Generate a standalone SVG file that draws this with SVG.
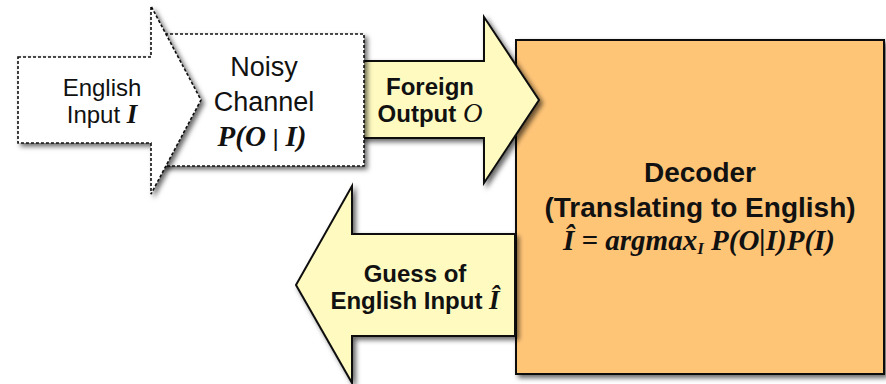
<svg xmlns="http://www.w3.org/2000/svg" width="886" height="384" viewBox="0 0 886 384">
  <defs>
    <filter id="shadow" x="-10%" y="-10%" width="130%" height="130%">
      <feDropShadow dx="3" dy="3" stdDeviation="2.5" flood-color="#000" flood-opacity="0.6"/>
    </filter>
  </defs>
  <style>
    .dashed { fill: #ffffff; stroke: #111; stroke-width: 1.6; stroke-dasharray: 3 2; filter: url(#shadow); }
    .solid-y { fill: #fffac0; stroke: #111; stroke-width: 2; stroke-linejoin: miter; filter: url(#shadow); }
    .solid-o { fill: #ffc577; stroke: #111; stroke-width: 2; filter: url(#shadow); }
    .sans { font-family: "Liberation Sans", Arial, sans-serif; fill: #111; text-anchor: middle; }
    .bold { font-weight: bold; }
    .math { font-family: "Liberation Serif", "Times New Roman", serif; font-style: italic; font-weight: bold; }
    .mathi { font-family: "Liberation Serif", "Times New Roman", serif; font-style: italic; font-weight: normal; }
  </style>
  <rect width="886" height="384" fill="#ffffff"/>

  <!-- Decoder box -->
  <g id="decoder">
    <rect class="solid-o" x="516" y="40" width="368" height="334"/>
    <text class="sans bold" x="700" y="182" font-size="28">Decoder</text>
    <text class="sans bold" x="700" y="217" font-size="28">(Translating to English)</text>
    <text class="sans" x="699" y="250" font-size="29"><tspan class="math">Î = argmax</tspan><tspan class="math" font-size="17" dy="4">I</tspan><tspan class="math" dy="-4"> P(O|I)P(I)</tspan></text>
  </g>

  <!-- Arrow-shaped connectors -->
  <g id="connectors">
    <g id="foreign-output">
      <path class="solid-y" d="M360,61 H484 V17 L539,100 L484,183 V138 H360 Z"/>
      <text class="sans bold" x="430" y="95" font-size="24">Foreign</text>
      <text class="sans bold" x="430" y="122" font-size="24">Output <tspan class="mathi" font-size="27">O</tspan></text>
    </g>
    <g id="guess">
      <path class="solid-y" d="M515,234 H352 V186 L296,285 L352,383 V336 H515 Z"/>
      <text class="sans bold" x="415" y="282" font-size="24">Guess of</text>
      <text class="sans bold" x="415" y="309" font-size="24">English Input <tspan class="math" font-size="27">Î</tspan></text>
    </g>
  </g>

  <!-- Noisy channel box -->
  <g id="noisy-channel">
    <rect class="dashed" x="160" y="34" width="204" height="132"/>
    <text class="sans" x="264" y="76" font-size="27">Noisy</text>
    <text class="sans" x="264" y="111" font-size="27">Channel</text>
    <text class="sans" x="262" y="146" font-size="29"><tspan class="math">P(O</tspan><tspan font-family="Liberation Sans, sans-serif" font-size="24"> | </tspan><tspan class="math">I)</tspan></text>
  </g>

  <!-- English input arrow -->
  <g id="english-input">
    <path class="dashed" d="M18,57 H151 V6 L201,100 L151,194 V143 H18 Z"/>
    <text class="sans" x="102" y="96" font-size="24">English</text>
    <text class="sans" x="102" y="123" font-size="24">Input <tspan class="math" font-size="27">I</tspan></text>
  </g>
</svg>
